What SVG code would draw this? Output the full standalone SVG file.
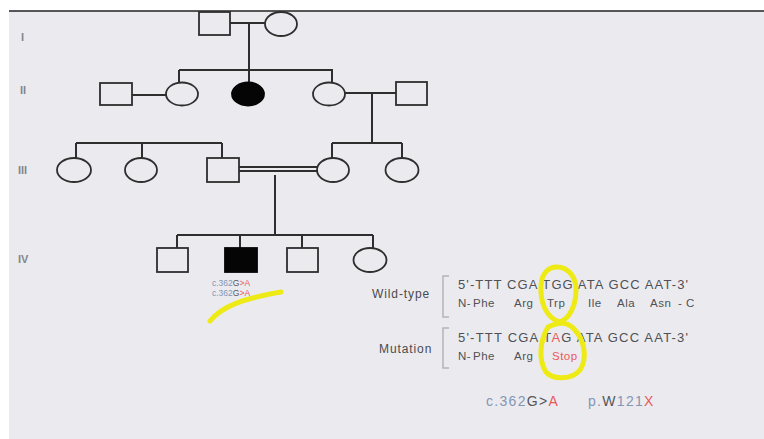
<svg xmlns="http://www.w3.org/2000/svg" width="764" height="439" viewBox="0 0 764 439">
<style>
.sq{fill:none;stroke:#2e2e2e;stroke-width:1.8}
.aff{fill:#050505;stroke:#050505;stroke-width:1.8}
.ln{fill:none;stroke:#2e2e2e;stroke-width:2}
.gen{font-family:"Liberation Sans",Arial,sans-serif;font-size:11px;font-weight:bold;fill:#85858a}
.lab{font-family:"Liberation Sans",Arial,sans-serif;font-size:12px;fill:#4a4a4e;letter-spacing:0.9px}
.seq{font-family:"Liberation Sans",Arial,sans-serif;font-size:13px;fill:#505055}
.aa{font-family:"Liberation Sans",Arial,sans-serif;font-size:11.5px;fill:#505055;letter-spacing:0.5px}
.small{font-family:"Liberation Sans",Arial,sans-serif;font-size:8.5px}
.big{font-family:"Liberation Sans",Arial,sans-serif;font-size:14px;letter-spacing:1.3px}
.blue{fill:#8595b5}
.dark{fill:#55555a}
.red{fill:#e85a5a}
.br{fill:none;stroke:#b4b4bc;stroke-width:1.5}
.hl{fill:none;stroke:#eeea16;stroke-width:5;stroke-linecap:round}
</style>
<rect x="0" y="0" width="764" height="439" fill="#ffffff"/>
<rect x="9" y="11" width="755" height="428" fill="#ebebef"/>
<line x1="9" y1="11" x2="764" y2="11" stroke="#222" stroke-width="1.5"/>

<g id="generation-labels">
<text class="gen" x="21" y="41">I</text>
<text class="gen" x="20" y="94">II</text>
<text class="gen" x="18" y="174">III</text>
<text class="gen" x="18" y="263">IV</text>
</g>

<g id="connectors">
<line class="ln" x1="230" y1="23" x2="265" y2="23"/>
<line class="ln" x1="249" y1="23" x2="249" y2="70"/>
<line class="ln" x1="179" y1="70" x2="333" y2="70"/>
<line class="ln" x1="179" y1="70" x2="179" y2="83"/>
<line class="ln" x1="249" y1="70" x2="249" y2="82"/>
<line class="ln" x1="332" y1="70" x2="332" y2="83"/>
<line class="ln" x1="132" y1="95" x2="167" y2="95"/>
<line class="ln" x1="345" y1="93" x2="396" y2="93"/>
<line class="ln" x1="372" y1="93" x2="372" y2="143"/>
<line class="ln" x1="76" y1="143" x2="222" y2="143"/>
<line class="ln" x1="76" y1="143" x2="76" y2="158"/>
<line class="ln" x1="142" y1="143" x2="142" y2="158"/>
<line class="ln" x1="222" y1="143" x2="222" y2="158"/>
<line class="ln" x1="332" y1="143" x2="402" y2="143"/>
<line class="ln" x1="332" y1="143" x2="332" y2="158"/>
<line class="ln" x1="402" y1="143" x2="402" y2="158"/>
<line class="ln" x1="239" y1="167" x2="318" y2="167" stroke-width="1.6"/>
<line class="ln" x1="239" y1="171" x2="318" y2="171" stroke-width="1.6"/>
<line class="ln" x1="275" y1="175" x2="275" y2="235"/>
<line class="ln" x1="177" y1="235" x2="373" y2="235"/>
<line class="ln" x1="177" y1="235" x2="177" y2="248"/>
<line class="ln" x1="240" y1="235" x2="240" y2="248"/>
<line class="ln" x1="302" y1="235" x2="302" y2="248"/>
<line class="ln" x1="373" y1="235" x2="373" y2="248"/>
</g>

<g id="I-1"><rect class="sq" x="199" y="12" width="31" height="23"/></g>
<g id="I-2"><ellipse class="sq" cx="281" cy="24" rx="16" ry="12"/></g>
<g id="II-1"><rect class="sq" x="100" y="83" width="32" height="22"/></g>
<g id="II-2"><ellipse class="sq" cx="182" cy="94" rx="16" ry="11.5"/></g>
<g id="II-3"><ellipse class="aff" cx="248" cy="94" rx="16" ry="11.5"/></g>
<g id="II-4"><ellipse class="sq" cx="329" cy="94" rx="16" ry="11.5"/></g>
<g id="II-5"><rect class="sq" x="396" y="82" width="31" height="23"/></g>
<g id="III-1"><ellipse class="sq" cx="74" cy="170" rx="17" ry="12"/></g>
<g id="III-2"><ellipse class="sq" cx="141" cy="170" rx="16" ry="12"/></g>
<g id="III-3"><rect class="sq" x="207" y="158" width="32" height="24"/></g>
<g id="III-4"><ellipse class="sq" cx="333" cy="170" rx="16" ry="12"/></g>
<g id="III-5"><ellipse class="sq" cx="402" cy="170" rx="16.5" ry="12"/></g>
<g id="IV-1"><rect class="sq" x="157" y="248" width="31" height="24"/></g>
<g id="IV-2"><rect class="aff" x="225" y="248" width="32" height="24"/>
<text class="small" x="212" y="286"><tspan class="blue">c.362</tspan><tspan class="dark">G</tspan><tspan class="red">&gt;A</tspan></text>
<text class="small" x="212" y="296"><tspan class="blue">c.362</tspan><tspan class="dark">G</tspan><tspan class="red">&gt;A</tspan></text>
</g>
<g id="IV-3"><rect class="sq" x="287" y="248" width="31" height="24"/></g>
<g id="IV-4"><ellipse class="sq" cx="370" cy="260" rx="16.5" ry="12"/></g>

<g id="sequence-panel">
<text class="lab" x="372" y="298">Wild-type</text>
<path class="br" d="M449,276 H443 V317 H449"/>
<text class="seq" x="458" y="289" textLength="230" lengthAdjust="spacing">5'-TTT CGA TGG ATA GCC AAT-3'</text>
<text class="aa" y="307"><tspan x="458">N-</tspan><tspan x="473">Phe</tspan><tspan x="514">Arg</tspan><tspan x="547">Trp</tspan><tspan x="588">Ile</tspan><tspan x="617">Ala</tspan><tspan x="650">Asn</tspan><tspan x="678">- C</tspan></text>

<text class="lab" x="379" y="353">Mutation</text>
<path class="br" d="M449,328 H443 V368 H449"/>
<text class="seq" x="458" y="342" textLength="230" lengthAdjust="spacing">5'-TTT CGA T<tspan class="red">A</tspan>G ATA GCC AAT-3'</text>
<text class="aa" y="360"><tspan x="458">N-</tspan><tspan x="473">Phe</tspan><tspan x="514">Arg</tspan><tspan x="552" class="red">Stop</tspan></text>

<text class="big" x="486" y="406"><tspan class="blue">c.362</tspan><tspan class="dark">G&gt;</tspan><tspan class="red">A</tspan></text>
<text class="big" x="588" y="406"><tspan class="blue">p.</tspan><tspan class="dark">W</tspan><tspan class="blue">121</tspan><tspan class="red">X</tspan></text>
</g>

<g id="highlights">
<path class="hl" d="M210,321 C222,306 245,298 281,292" stroke-width="6"/>
<path class="hl" d="M560,322 C545,318 540,300 541,285 C542,272 550,266 558,267 C568,268 576,276 576,290 C576,305 570,318 560,322 Z"/>
<path class="hl" d="M548,327 C540,340 538,360 546,372 C553,380 572,380 580,370 C588,358 584,340 575,330 C568,322 560,321 548,327 Z"/>
</g>
</svg>
